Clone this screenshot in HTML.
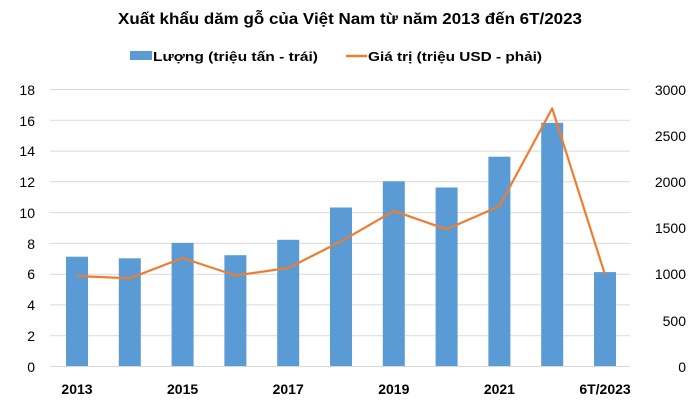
<!DOCTYPE html>
<html><head><meta charset="utf-8"><style>
html,body{margin:0;padding:0;background:#fff;}
svg{display:block;font-family:"Liberation Sans",sans-serif;}
</style></head><body>
<svg width="700" height="420" viewBox="0 0 700 420">
<text x="350" y="24" text-anchor="middle" font-size="16" font-weight="bold" fill="#000" textLength="464" lengthAdjust="spacingAndGlyphs">Xuất khẩu dăm gỗ của Việt Nam từ năm 2013 đến 6T/2023</text>
<rect x="130" y="51" width="22" height="9" fill="#5b9bd5"/>
<text x="153" y="61" font-size="13" font-weight="bold" fill="#000" textLength="165" lengthAdjust="spacingAndGlyphs">Lượng (triệu tấn - trái)</text>
<line x1="346" y1="56" x2="367" y2="56" stroke="#ed7d31" stroke-width="2.5"/>
<text x="368" y="61" font-size="13" font-weight="bold" fill="#000" textLength="174" lengthAdjust="spacingAndGlyphs">Giá trị (triệu USD - phải)</text>
<g stroke="#d9d9d9" stroke-width="1">
<line x1="50" y1="89.5" x2="630" y2="89.5"/>
<line x1="50" y1="120.3" x2="630" y2="120.3"/>
<line x1="50" y1="151.1" x2="630" y2="151.1"/>
<line x1="50" y1="181.8" x2="630" y2="181.8"/>
<line x1="50" y1="212.6" x2="630" y2="212.6"/>
<line x1="50" y1="243.4" x2="630" y2="243.4"/>
<line x1="50" y1="274.2" x2="630" y2="274.2"/>
<line x1="50" y1="304.9" x2="630" y2="304.9"/>
<line x1="50" y1="335.7" x2="630" y2="335.7"/>
<line x1="50" y1="366.5" x2="630" y2="366.5"/>
</g>
<g font-size="14" fill="#000" text-anchor="end">
<text x="35" y="95">18</text><text x="35" y="126">16</text><text x="35" y="156">14</text><text x="35" y="187">12</text><text x="35" y="218">10</text><text x="35" y="249">8</text><text x="35" y="279">6</text><text x="35" y="310">4</text><text x="35" y="341">2</text><text x="35" y="372">0</text>
</g>
<g font-size="14" fill="#000" text-anchor="end">
<text x="686" y="95">3000</text><text x="686" y="141">2500</text><text x="686" y="187">2000</text><text x="686" y="233">1500</text><text x="686" y="279">1000</text><text x="686" y="326">500</text><text x="686" y="372">0</text>
</g>
<g fill="#5b9bd5">
<rect x="66" y="256.7" width="22" height="109.3"/>
<rect x="118.8" y="258.3" width="22" height="107.7"/>
<rect x="171.6" y="242.9" width="22" height="123.1"/>
<rect x="224.4" y="255.2" width="22" height="110.8"/>
<rect x="277.2" y="239.8" width="22" height="126.2"/>
<rect x="330" y="207.5" width="22" height="158.5"/>
<rect x="382.8" y="181.3" width="22" height="184.7"/>
<rect x="435.6" y="187.5" width="22" height="178.5"/>
<rect x="488.4" y="156.7" width="22" height="209.3"/>
<rect x="541.2" y="122.8" width="22" height="243.2"/>
<rect x="594" y="272.1" width="22" height="93.9"/>
</g>
<polyline fill="none" stroke="#ed7d31" stroke-width="2.2" stroke-linejoin="round" points="77,276 129.8,278.3 182.6,258 235.4,275.5 288.2,268 341,241.4 393.8,210.9 446.6,229.3 499.4,206.3 552.2,108.4 605,274.6"/>
<g font-size="14" font-weight="bold" fill="#000" text-anchor="middle">
<text x="77" y="394">2013</text><text x="182.6" y="394">2015</text><text x="288.2" y="394">2017</text><text x="393.8" y="394">2019</text><text x="499.4" y="394">2021</text><text x="605" y="394">6T/2023</text>
</g>
</svg>
</body></html>
